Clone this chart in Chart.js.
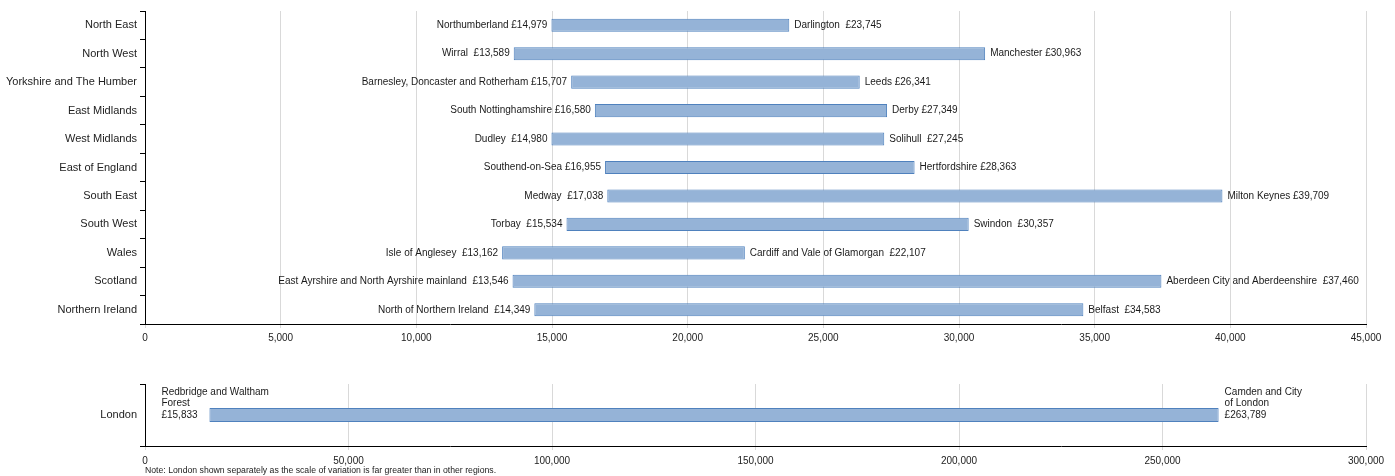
<!DOCTYPE html>
<html>
<head>
<meta charset="utf-8">
<script src="https://cdn.jsdelivr.net/npm/chart.js@4"></script>
<style>
  html, body { margin: 0; padding: 0; background: #fff; }
  body { width: 1395px; height: 476px; position: relative; overflow: hidden; }
  #top { position: absolute; left: 0; top: 0; width: 1395px; height: 348px; }
  #bot { position: absolute; left: 0; top: 370px; width: 1395px; height: 100px; }
  #note { position: absolute; left: 145px; top: 465px; font: 8.7px 'Liberation Sans', Arial, sans-serif; color: #222; white-space: nowrap; }
</style>
</head>
<body>
<div id="top"><canvas id="c1"></canvas></div>
<div id="bot"><canvas id="c2"></canvas></div>
<div id="note">Note: London shown separately as the scale of variation is far greater than in other regions.</div>
<script>
const regions = ['North East','North West','Yorkshire and The Humber','East Midlands','West Midlands','East of England','South East','South West','Wales','Scotland','Northern Ireland'];
const lowValues = [14979, 13589, 15707, 16580, 14980, 16955, 17038, 15534, 13162, 13546, 14349];
const highValues = [23745, 30963, 26341, 27349, 27245, 28363, 39709, 30357, 22107, 37460, 34583];
const lowNames = ['Northumberland','Wirral ','Barnesley, Doncaster and Rotherham','South Nottinghamshire','Dudley ','Southend-on-Sea','Medway ','Torbay ','Isle of Anglesey ','East Ayrshire and North Ayrshire mainland ','North of Northern Ireland '];
const highNames = ['Darlington ','Manchester','Leeds','Derby','Solihull ','Hertfordshire','Milton Keynes','Swindon ','Cardiff and Vale of Glamorgan ','Aberdeen City and Aberdeenshire ','Belfast '];
const topTicks = [0, 5000, 10000, 15000, 20000, 25000, 30000, 35000, 40000, 45000];

const londonRegion = ['London'];
const londonLow = [15833];
const londonHigh = [263789];
const londonLowName = ['Redbridge and Waltham', 'Forest'];
const londonHighName = ['Camden and City', 'of London'];
const bottomTicks = [0, 50000, 100000, 150000, 200000, 250000, 300000];

const fmt = v => Number(v).toLocaleString('en-US');
const FONT = "'Liberation Sans', Arial, sans-serif";
const BAR_FILL = '#95b3d7';
const BAR_EDGE = '#4f81bd';

Chart.defaults.font.family = FONT;
Chart.defaults.color = '#222';

const labelPlugin = {
  id: 'endLabels',
  afterDatasetsDraw(chart, args, opts) {
    const ctx = chart.ctx;
    const xs = chart.scales.x, ys = chart.scales.y;
    ctx.save();
    ctx.fillStyle = '#1a1a1a';
    ctx.font = opts.font;
    ctx.textBaseline = 'middle';
    opts.lows.forEach((v, i) => {
      const y = ys.getPixelForValue(i);
      const x0 = xs.getPixelForValue(v);
      const x1 = xs.getPixelForValue(opts.highs[i]);
      if (opts.multi) {
        const lh = opts.lineHeight;
        const ll = opts.lowLines.concat(['£' + fmt(v)]);
        const hl = opts.highLines.concat(['£' + fmt(opts.highs[i])]);
        ctx.textAlign = 'left';
        ll.forEach((t, k) => ctx.fillText(t, x0 - 48, y - (ll.length - 1 - k) * lh));
        hl.forEach((t, k) => ctx.fillText(t, x1 + 6, y - (hl.length - 1 - k) * lh));
      } else {
        ctx.textAlign = 'right';
        ctx.fillText(opts.lowNames[i] + ' £' + fmt(v), x0 - 4, y);
        ctx.textAlign = 'left';
        ctx.fillText(opts.highNames[i] + ' £' + fmt(opts.highs[i]), x1 + 5, y);
      }
    });
    ctx.restore();
  }
};

function makeChart(id, cats, lows, highs, ticks, maxV, padTop, barPct, tickPad, labelOpts) {
  return new Chart(document.getElementById(id), {
    type: 'bar',
    data: {
      labels: cats,
      datasets: [{
        data: lows.map((v, i) => [v, highs[i]]),
        backgroundColor: BAR_FILL,
        borderColor: BAR_EDGE,
        borderWidth: 1,
        borderSkipped: false,
        barPercentage: barPct,
        categoryPercentage: 1
      }]
    },
    options: {
      indexAxis: 'y',
      responsive: true,
      maintainAspectRatio: false,
      animation: false,
      layout: { padding: { top: padTop, right: 29, left: 0, bottom: 0 } },
      plugins: { legend: { display: false }, tooltip: { enabled: false }, endLabels: labelOpts },
      scales: {
        x: {
          type: 'linear',
          min: 0, max: maxV,
          afterBuildTicks: s => { s.ticks = ticks.map(v => ({ value: v })); },
          afterFit: s => { s.height = 24; },
          ticks: { font: { size: 10 }, color: '#222', padding: tickPad, maxRotation: 0, callback: v => fmt(v) },
          grid: { color: '#d9d9d9', tickLength: 4, tickColor: '#d9d9d9' },
          border: { color: '#000', width: 1 }
        },
        y: {
          type: 'category',
          offset: true,
          afterFit: s => { s.width = 145; },
          ticks: { font: { size: 11 }, color: '#222', padding: 3 },
          grid: { offset: true, drawOnChartArea: false, tickLength: 5, tickColor: '#000' },
          border: { color: '#000', width: 1 }
        }
      }
    },
    plugins: [labelPlugin]
  });
}

makeChart('c1', regions, lowValues, highValues, topTicks, 45000, 11, 0.46, 4, {
  font: '10px ' + FONT, lows: lowValues, highs: highValues, lowNames: lowNames, highNames: highNames
});
makeChart('c2', londonRegion, londonLow, londonHigh, bottomTicks, 300000, 14, 0.226, 5, {
  font: '10px ' + FONT, lows: londonLow, highs: londonHigh, multi: true, lineHeight: 11.5,
  lowLines: londonLowName, highLines: londonHighName
});
</script>
</body>
</html>
